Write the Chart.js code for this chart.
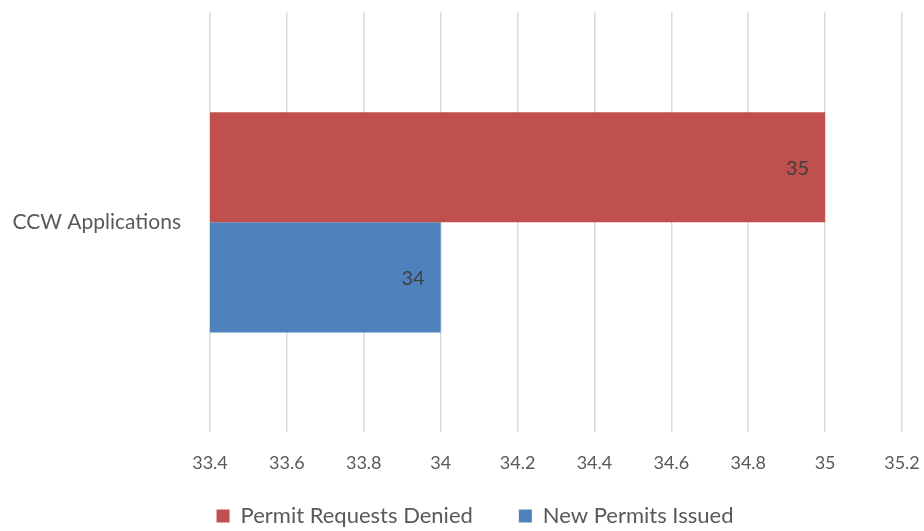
<!DOCTYPE html>
<html>
<head>
<meta charset="utf-8">
<script src="https://cdn.jsdelivr.net/npm/chart.js@4.4.1/dist/chart.umd.min.js"></script>
<style>
  html, body { margin: 0; padding: 0; background: #fff; }
  #wrap { width: 924px; height: 531px; }
</style>
</head>
<body>
<div id="wrap"><canvas id="chart"></canvas></div>
<script>
const categories = ['CCW Applications'];
const deniedValues = [35];
const issuedValues = [34];
const seriesNames = ['Permit Requests Denied', 'New Permits Issued'];
const axisMin = 33.4;
const axisMax = 35.2;
const axisStep = 0.2;

// draws the value inside the end of each bar
const barLabels = {
    id: 'barLabels',
    afterDatasetsDraw(chart) {
        const ctx = chart.ctx;
        ctx.save();
        ctx.font = '20px Lato, "Open Sans", sans-serif';
        ctx.fillStyle = '#404040';
        ctx.textAlign = 'right';
        ctx.textBaseline = 'middle';
        chart.data.datasets.forEach((ds, i) => {
            chart.getDatasetMeta(i).data.forEach((el, j) => {
                ctx.fillText(String(ds.data[j]), el.x - 16, el.y + 1);
            });
        });
        ctx.restore();
    }
};

// legend keeps a small box in the layout, then gets moved a bit
const legendSpot = {
    id: 'legendSpot',
    beforeInit(chart) {
        const fit = chart.legend.fit;
        chart.legend.fit = function () {
            fit.call(this);
            this.height = 51;
        };
    },
    afterLayout(chart) {
        const lg = chart.legend;
        lg.top = chart.height - 72;
        lg.height = 72;
        lg.bottom = chart.height;
        lg.left += 24;
        lg.right += 24;
    }
};

new Chart(document.getElementById('chart'), {
    type: 'bar',
    data: {
        labels: categories,
        datasets: [{
            label: seriesNames[0],
            data: deniedValues,
            backgroundColor: '#c0504d',
            categoryPercentage: 0.525,
            barPercentage: 1
        }, {
            label: seriesNames[1],
            data: issuedValues,
            backgroundColor: '#4f81bd',
            categoryPercentage: 0.525,
            barPercentage: 1
        }]
    },
    options: {
        indexAxis: 'y',
        responsive: true,
        maintainAspectRatio: false,
        animation: false,
        layout: { padding: { top: 9, right: 22, left: 0, bottom: 0 } },
        scales: {
            x: {
                min: axisMin,
                max: axisMax,
                border: { display: false },
                grid: { color: '#d9d9d9', lineWidth: 1.5, drawTicks: true, tickLength: 20, tickColor: 'rgba(0,0,0,0)' },
                ticks: {
                    stepSize: axisStep,
                    padding: 0,
                    color: '#595959',
                    font: { family: 'Lato, sans-serif', size: 18 },
                    callback: v => String(Number(v.toFixed(1)))
                },
                afterFit(scale) { scale.height = 48; }
            },
            y: {
                border: { display: false },
                grid: { display: true, drawOnChartArea: false, drawTicks: true, tickLength: 29, color: 'rgba(0,0,0,0)' },
                ticks: {
                    padding: 0,
                    color: '#595959',
                    font: { family: 'Lato, "Open Sans", sans-serif', size: 21 }
                },
                afterFit(scale) { scale.width = 210; }
            }
        },
        plugins: {
            legend: {
                position: 'bottom',
                labels: {
                    boxWidth: 13,
                    boxHeight: 13,
                    padding: 46,
                    color: '#595959',
                    font: { family: 'Lato, "Open Sans", sans-serif', size: 22 }
                }
            },
            tooltip: { enabled: false }
        }
    },
    plugins: [barLabels, legendSpot]
});
</script>
</body>
</html>
